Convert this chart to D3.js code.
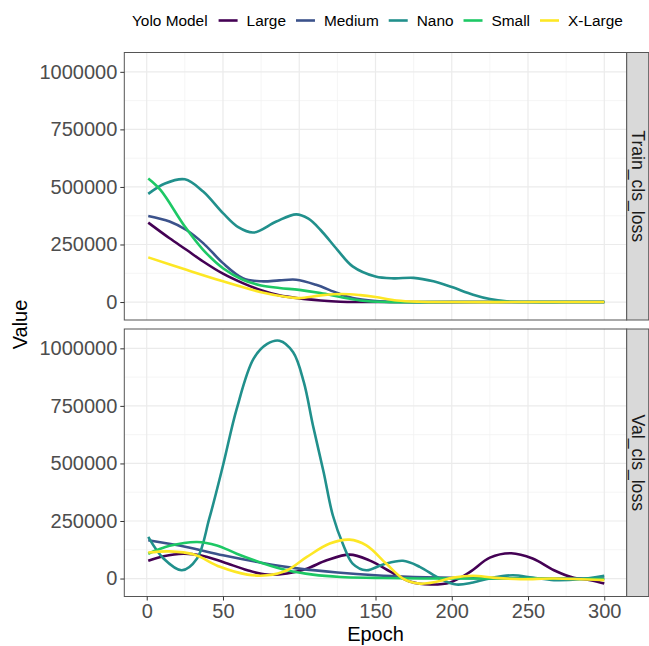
<!DOCTYPE html>
<html>
<head>
<meta charset="utf-8">
<script src="https://cdn.jsdelivr.net/npm/d3@7"></script>
<style>
  html, body { margin: 0; padding: 0; background: #fff; }
  svg { display: block; font-family: "Liberation Sans", Arial, Helvetica, sans-serif; }
</style>
</head>
<body>
<script>
// ---------------- DATA ----------------
const models = ["Large", "Medium", "Nano", "Small", "X-Large"];
const modelColors = ["#440154", "#3B528B", "#21908C", "#1DC865", "#FDE725"];
const facets = ["Train_cls_loss", "Val_cls_loss"];
const xTicks = [0, 50, 100, 150, 200, 250, 300];
const yTicks = [0, 250000, 500000, 750000, 1000000];

// [epoch, value] pairs
const trainLarge = [[1,345000],[15,277000],[26,227000],[37,176000],[50,123000],[63,82000],[75,51000],[87,29000],[100,16000],[114,7000],[127,1500],[140,0],[200,0],[300,0]];
const trainMedium = [[1,374000],[15,350000],[26,313000],[37,256000],[50,169000],[63,104000],[75,90000],[87,94000],[98,97000],[111,75000],[125,39000],[135,17000],[150,4000],[165,0],[220,0],[300,0]];
const trainNano = [[1,470000],[12,515000],[25,533000],[37,480000],[50,386000],[60,325000],[70,302000],[85,350000],[98,381000],[106,362000],[114,313000],[125,227000],[135,155000],[150,111000],[162,103000],[175,105000],[188,90000],[200,65000],[214,32000],[225,13000],[236,3000],[250,0],[275,0],[300,0]];
const trainSmall = [[1,537000],[9,487000],[25,328000],[37,227000],[50,147000],[63,97000],[75,72000],[87,61000],[100,53000],[114,39000],[127,22000],[140,7000],[157,0],[200,0],[300,0]];
const trainXLarge = [[1,194000],[26,140000],[50,90000],[75,43000],[92,22000],[100,17000],[114,29000],[128,35000],[140,30000],[150,22000],[164,7000],[179,1500],[195,0],[250,0],[300,0]];

const valLarge = [[1,77000],[11,97000],[24,108000],[35,101000],[50,72000],[66,36000],[79,17000],[92,22000],[105,43000],[118,79000],[133,104000],[146,79000],[162,22000],[173,-14000],[186,-26000],[199,-17000],[212,29000],[225,91000],[239,110000],[253,87000],[267,36000],[280,3000],[291,-7000],[300,-22000]];
const valMedium = [[1,166000],[26,137000],[50,101000],[75,69000],[100,43000],[125,26000],[150,14000],[175,7000],[200,3000],[250,0],[300,0]];
const valNano = [[1,181000],[11,87000],[23,36000],[33,87000],[41,260000],[50,491000],[59,737000],[70,954000],[79,1019000],[87,1033000],[96,983000],[103,853000],[109,665000],[116,462000],[122,275000],[129,144000],[135,65000],[144,36000],[155,61000],[168,77000],[179,51000],[192,0],[203,-26000],[214,-17000],[227,4000],[240,14000],[253,4000],[267,-7000],[284,-3000],[300,12000]];
const valSmall = [[1,108000],[15,142000],[33,159000],[46,144000],[59,108000],[75,69000],[92,36000],[109,17000],[127,7000],[150,3000],[179,0],[240,0],[300,-2000]];
const valXLarge = [[1,113000],[15,118000],[31,104000],[48,51000],[66,17000],[79,14000],[92,36000],[105,94000],[120,152000],[133,169000],[144,144000],[157,65000],[168,0],[179,-22000],[190,-14000],[201,4000],[214,12000],[227,4000],[245,-3000],[267,0],[300,-7000]];

const panelSeries = [
  [trainLarge, trainMedium, trainNano, trainSmall, trainXLarge],
  [valLarge, valMedium, valNano, valSmall, valXLarge]
];

// ---------------- LAYOUT ----------------
const W = 649, H = 646;
const panelLeft = 124.3, panelRight = 626.7;
const panelTops = [52.5, 329];
const panelH = 267.5;
const stripW = 22;

const svg = d3.select("body").append("svg").attr("width", W).attr("height", H);

const x = d3.scaleLinear().domain([-14.7, 314.7]).range([panelLeft, panelRight]);
const color = d3.scaleOrdinal().domain(models).range(modelColors);
const minorX = d3.range(25, 300, 50);
const minorY = [125000, 375000, 625000, 875000];

const line = (ys) => d3.line().x(d => x(d[0])).y(d => ys(d[1])).curve(d3.curveCatmullRom.alpha(0.5));

facets.forEach((facet, i) => {
  const top = panelTops[i];
  const y = d3.scaleLinear().domain([-78000, 1084000]).range([top + panelH, top]);
  const g = svg.append("g");

  // background
  g.append("rect").attr("x", panelLeft).attr("y", top).attr("width", panelRight - panelLeft).attr("height", panelH).attr("fill", "#fff");

  // minor grid
  g.selectAll(null).data(minorX).enter().append("line")
    .attr("x1", d => x(d)).attr("x2", d => x(d)).attr("y1", top).attr("y2", top + panelH)
    .attr("stroke", "#F2F2F2").attr("stroke-width", 0.8);
  g.selectAll(null).data(minorY).enter().append("line")
    .attr("y1", d => y(d)).attr("y2", d => y(d)).attr("x1", panelLeft).attr("x2", panelRight)
    .attr("stroke", "#F2F2F2").attr("stroke-width", 0.8);
  // major grid
  g.selectAll(null).data(xTicks).enter().append("line")
    .attr("x1", d => x(d)).attr("x2", d => x(d)).attr("y1", top).attr("y2", top + panelH)
    .attr("stroke", "#EBEBEB").attr("stroke-width", 1.2);
  g.selectAll(null).data(yTicks).enter().append("line")
    .attr("y1", d => y(d)).attr("y2", d => y(d)).attr("x1", panelLeft).attr("x2", panelRight)
    .attr("stroke", "#EBEBEB").attr("stroke-width", 1.2);

  // series
  panelSeries[i].forEach((s, k) => {
    g.append("path").datum(s)
      .attr("d", line(y))
      .attr("fill", "none")
      .attr("stroke", color(models[k]))
      .attr("stroke-width", 2.6)
      .attr("stroke-linejoin", "round")
      .attr("stroke-linecap", "butt");
  });

  // border
  g.append("rect").attr("x", panelLeft).attr("y", top).attr("width", panelRight - panelLeft).attr("height", panelH)
    .attr("fill", "none").attr("stroke", "#555").attr("stroke-width", 1);

  // y axis
  const yAxis = d3.axisLeft(y).tickValues(yTicks).tickSize(4).tickPadding(3).tickFormat(d3.format("d"));
  const ya = svg.append("g").attr("transform", `translate(${panelLeft},0)`).call(yAxis);
  ya.select(".domain").remove();
  ya.selectAll(".tick line").attr("stroke", "#333").attr("stroke-width", 1);
  ya.selectAll(".tick text").attr("fill", "#4D4D4D").style("font-size", "20px")
    .style("font-family", "'Liberation Sans', Arial, sans-serif");

  // strip
  svg.append("rect").attr("x", panelRight).attr("y", top).attr("width", stripW).attr("height", panelH)
    .attr("fill", "#D9D9D9").attr("stroke", "#555").attr("stroke-width", 1);
  svg.append("text")
    .attr("transform", `translate(${panelRight + stripW / 2},${top + panelH / 2}) rotate(90)`)
    .attr("text-anchor", "middle").attr("dy", "0.35em")
    .attr("fill", "#1A1A1A").style("font-size", "17.6px")
    .text(facet);
});

// x axis (bottom panel)
const bottom = panelTops[1] + panelH;
const xAxis = d3.axisBottom(x).tickValues(xTicks).tickSize(4).tickPadding(3);
const xa = svg.append("g").attr("transform", `translate(0,${bottom})`).call(xAxis);
xa.select(".domain").remove();
xa.selectAll(".tick line").attr("stroke", "#333").attr("stroke-width", 1);
xa.selectAll(".tick text").attr("fill", "#4D4D4D").style("font-size", "20px")
  .style("font-family", "'Liberation Sans', Arial, sans-serif");

// axis titles
svg.append("text").attr("x", (panelLeft + panelRight) / 2).attr("y", 641)
  .attr("text-anchor", "middle").attr("fill", "#000").style("font-size", "20px").text("Epoch");
svg.append("text")
  .attr("transform", `translate(27,${(panelTops[0] + bottom) / 2}) rotate(-90)`)
  .attr("text-anchor", "middle").attr("fill", "#000").style("font-size", "20px").text("Value");

// legend
const lg = svg.append("g").attr("transform", "translate(132,20.5)");
const title = lg.append("text").attr("x", 0).attr("y", 0).attr("dy", "0.35em")
  .style("font-size", "15.4px").attr("fill", "#000").text("Yolo Model");
let cx = title.node().getComputedTextLength() + 11;
models.forEach((m, k) => {
  lg.append("line").attr("x1", cx).attr("x2", cx + 19).attr("y1", 0).attr("y2", 0)
    .attr("stroke", color(m)).attr("stroke-width", 2.6);
  cx += 19 + 9;
  const t = lg.append("text").attr("x", cx).attr("y", 0).attr("dy", "0.35em")
    .style("font-size", "15.4px").attr("fill", "#000").text(m);
  cx += t.node().getComputedTextLength() + 10;
});
</script>
</body>
</html>
